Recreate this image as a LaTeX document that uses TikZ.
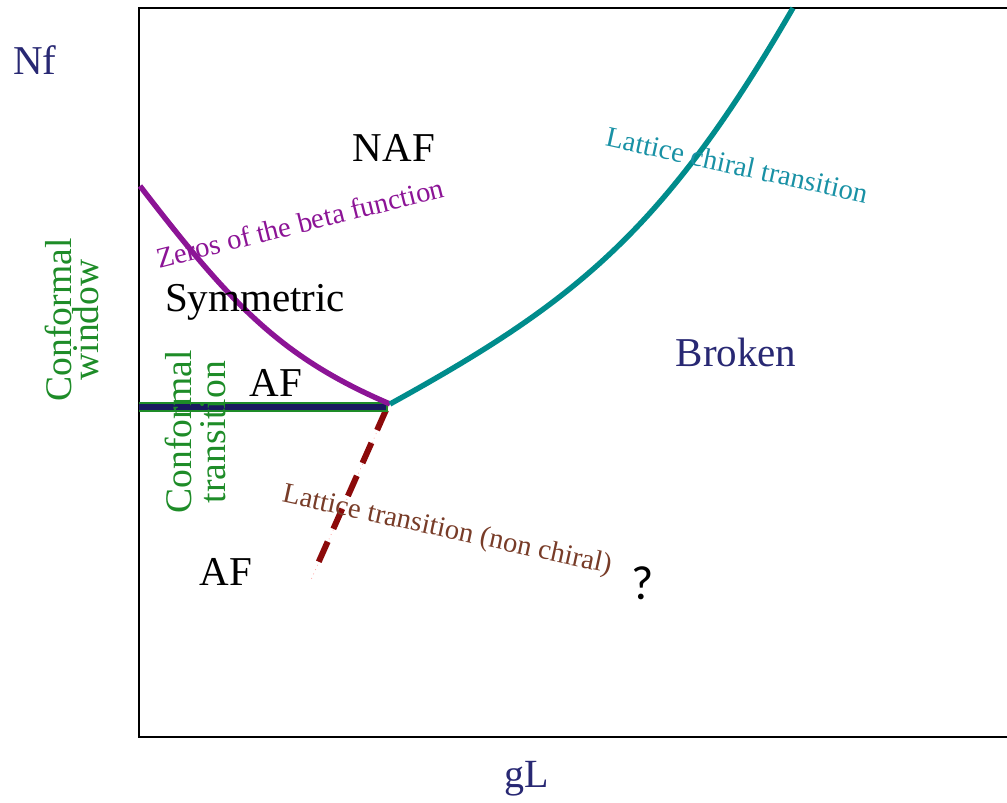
\documentclass[tikz,border=0pt]{standalone}
\usepackage{fontspec}
\setmainfont{Liberation Serif}
\newfontfamily\qmarkfont{Carlito}
\usetikzlibrary{positioning}
\definecolor{navytext}{RGB}{40,40,115}
\definecolor{navyline}{RGB}{25,25,95}
\definecolor{confgreen}{RGB}{30,140,40}
\definecolor{betapurple}{RGB}{140,20,150}
\definecolor{chiralteal}{RGB}{0,140,140}
\definecolor{chiraltext}{RGB}{25,145,165}
\definecolor{latred}{RGB}{140,10,10}
\definecolor{latbrown}{RGB}{120,60,40}

\begin{document}
\begin{tikzpicture}[x=0.5pt, y=-0.5pt,
    phase/.style={inner sep=0pt, font=\fontsize{20.5}{24}\selectfont},
    curvelbl/.style={inner sep=0pt, font=\fontsize{14.3}{17}\selectfont},
    vlbl/.style={inner sep=0pt, rotate=90, align=center, text=confgreen},
    crit/.style={line width=2.7pt},
    node distance=0.45cm
  ]
    \useasboundingbox (0,0) rectangle (1007,803);
    % frame (open to the right)
    \draw[line width=1pt] (1007,8) -- (139,8) -- (139,737) -- (1007,737);

    % special points
    \coordinate (tri) at (390,404);
    \coordinate (betastart) at (140,186);
    \coordinate (chiralend) at (793,8);
    \coordinate (confstart) at (139,407);
    \coordinate (confend) at (388,407);
    \coordinate (latend) at (310,582);
    \coordinate (latdash) at (316,568);

    % lattice transition (non chiral)
    \draw[red!35, line width=0.4pt, dotted] (confend) -- (latend);
    \draw[latred, line width=3pt, dash pattern=on 11pt off 7pt] (386,410) -- (latdash);

    % conformal transition
    \draw[confgreen, line width=5pt] (confstart) -- (confend);
    \draw[navyline, line width=3pt] (confstart) -- (386,407);

    % zeros of the beta function
    \draw[crit, betapurple] (betastart) .. controls (231,304) and (280,357) .. (tri);
    % lattice chiral transition
    \draw[crit, chiralteal] (tri) .. controls (573,303) and (663,233) .. (chiralend);

    % axes
    \node[phase, text=navytext] (nf) at (35,60) {Nf};
    \node[phase, text=navytext, font=\fontsize{20}{24}\selectfont] (gl) at (527,779) {gL};

    % phases
    \node[phase] (naf) at (394,148) {NAF};
    \node[phase] (sym) at (255,302) {Symmetric};
    \node[phase, text=navytext] (broken) at (736,352) {Broken};
    \node[phase] (afup) at (276,383) {AF};
    \node[phase] (afdown) at (226,572) {AF};

    % curve labels
    \node[curvelbl, text=betapurple, rotate=14] (betalbl) at (300,223) {Zeros of the beta function};
    \node[curvelbl, text=chiraltext, rotate=-12.4] (chirallbl) at (737,165) {Lattice chiral transition};
    \node[curvelbl, text=latbrown, rotate=-12.3] (latlbl) at (447,531) {Lattice transition (non chiral)};
    \node[inner sep=0pt, font=\qmarkfont\fontsize{24}{26}\selectfont] (qmark) at (643,583) {?};

    % conformal labels
    \node[vlbl, font=\fontsize{18.8}{13.5}\selectfont] (window) at (72,320) {Conformal\\window};
    \node[vlbl, font=\fontsize{18.8}{17}\selectfont] (conftrans) at (195,432) {Conformal\\transition};
  \end{tikzpicture}
\end{document}
